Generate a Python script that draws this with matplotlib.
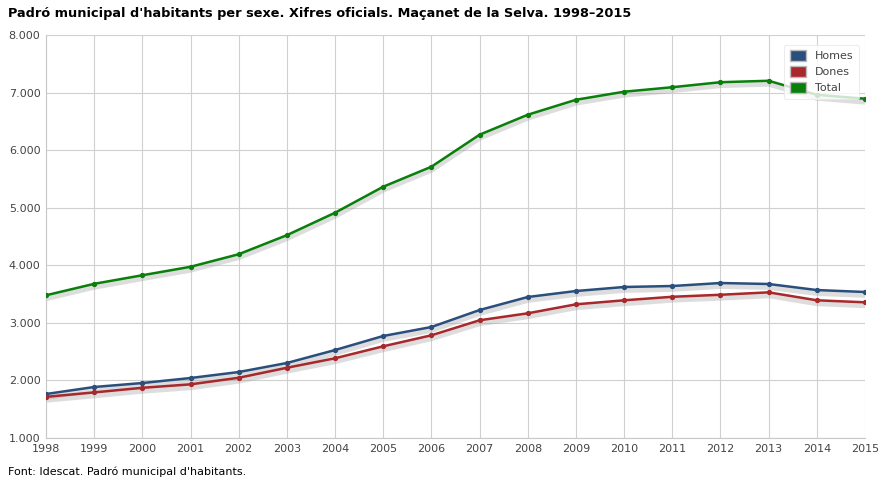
import matplotlib
matplotlib.use("Agg")
import matplotlib.pyplot as plt
import matplotlib.patheffects as pe
import matplotlib.patches as mpatches
from matplotlib.ticker import FuncFormatter

# dades
anys = list(range(1998, 2016))
homes = [1764, 1886, 1955, 2042, 2146, 2303, 2528, 2772, 2928, 3223,
         3449, 3553, 3623, 3640, 3692, 3675, 3570, 3536]
dones = [1715, 1792, 1872, 1932, 2046, 2220, 2385, 2593, 2784, 3045,
         3166, 3322, 3392, 3453, 3488, 3530, 3392, 3357]
total = [3479, 3678, 3827, 3974, 4192, 4523, 4913, 5365, 5712, 6268,
         6615, 6875, 7015, 7093, 7180, 7205, 6962, 6893]

series = [("Homes", homes, "#2b4f7c"),
          ("Dones", dones, "#a8282c"),
          ("Total", total, "#08800a")]

fig = plt.figure(figsize=(8.93, 4.88), dpi=100)
ax = fig.add_axes([46/893, 50/488, 819/893, 403/488])

shadow = [pe.SimpleLineShadow(offset=(0, -2), shadow_color="#a0a0a0", alpha=0.35, linewidth=4.5)]

for name, vals, col in series:
    # ombra sense marcadors
    ax.plot(anys, vals, color=col, lw=2, path_effects=shadow, alpha=0, zorder=2)
    ax.plot(anys, vals, color=col, lw=1.8, marker="o", ms=2.8, label=name, zorder=3)

ax.set_xlim(1998, 2015)
ax.set_ylim(1000, 8000)
ax.set_xticks(anys)
ax.set_yticks(range(1000, 8001, 1000))
ax.yaxis.set_major_formatter(FuncFormatter(lambda v, p: "{:,.0f}".format(v).replace(",", ".")))
ax.grid(True, color="#d0d0d0", lw=0.8)
ax.set_axisbelow(True)
for s in ["top", "right"]:
    ax.spines[s].set_visible(False)
ax.spines["left"].set_color("#c8c8c8")
ax.spines["bottom"].set_color("#c8c8c8")
ax.tick_params(length=0, labelsize=8, colors="#444444", pad=4)

# caixes de color a la llegenda
handles = [mpatches.Patch(facecolor=c, edgecolor="#bbbbbb", label=n) for n, v, c in series]
leg = ax.legend(handles=handles, loc="upper right", bbox_to_anchor=(1.0, 0.99), fontsize=8,
                frameon=True, handlelength=1.5, handleheight=1.1,
                labelcolor="#444444", borderpad=0.5, labelspacing=0.45)
leg.get_frame().set_edgecolor("#e8e8e8")
leg.get_frame().set_linewidth(0.8)

fig.text(8/893, 1 - 13/488, "Padró municipal d'habitants per sexe. Xifres oficials. Maçanet de la Selva. 1998\u20132015",
         fontsize=9.3, fontweight="bold", va="center", ha="left")
fig.text(8/893, 1 - 472/488, "Font: Idescat. Padró municipal d'habitants.",
         fontsize=8, va="center", ha="left")

fig.savefig("out.png", dpi=100)
